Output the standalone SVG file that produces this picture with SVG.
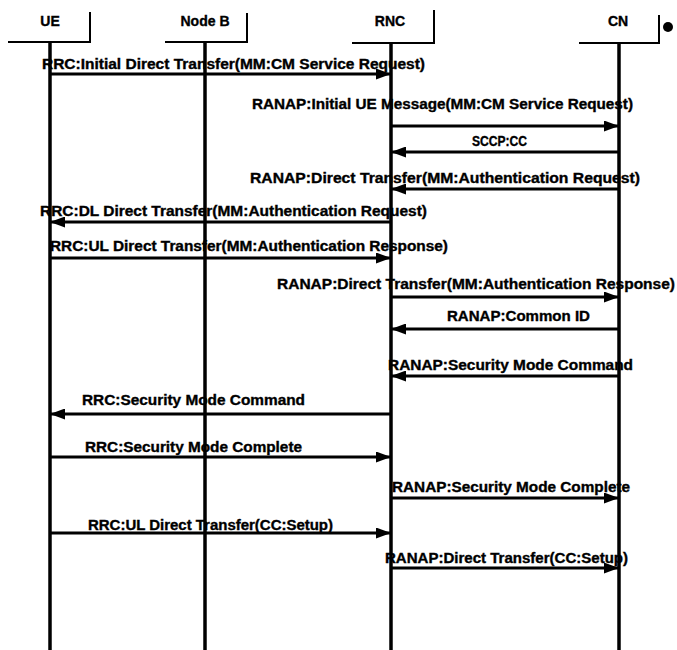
<svg xmlns="http://www.w3.org/2000/svg" width="677" height="650" viewBox="0 0 677 650">
<style>
.hdr{fill:none;stroke:#000;stroke-width:2}
.life{stroke:#000;stroke-width:3.5}
.msg{stroke:#000;stroke-width:3;fill:none}
.lbl{font-family:"Liberation Sans","DejaVu Sans",sans-serif;font-weight:bold;font-size:14px;fill:#000;stroke:#000;stroke-width:0.35}
.name{font-family:"Liberation Sans","DejaVu Sans",sans-serif;font-weight:bold;font-size:14px;fill:#000;stroke:#000;stroke-width:0.35;text-anchor:middle}
</style>
<defs>
<marker id="ah" viewBox="0 0 15 11" refX="15" refY="5.5" markerWidth="15" markerHeight="11" markerUnits="userSpaceOnUse" orient="auto">
<path d="M0,0 L15,5.5 L0,11 z" fill="#000"/>
</marker>
</defs>
<rect width="677" height="650" fill="#fff"/>
<g id="UE">
<path class="hdr" d="M8,42 H90 V12"/>
<text class="name" x="50" y="26">UE</text>
<line class="life" x1="50" y1="42" x2="50" y2="650"/>
</g>
<g id="NodeB">
<path class="hdr" d="M165,42 H247 V13"/>
<text class="name" x="205" y="26">Node B</text>
<line class="life" x1="205" y1="42" x2="205" y2="650"/>
</g>
<g id="RNC">
<path class="hdr" d="M352,43 H434 V10"/>
<text class="name" x="390" y="26">RNC</text>
<line class="life" x1="391" y1="43" x2="391" y2="650"/>
</g>
<g id="CN">
<path class="hdr" d="M579,43 H659 V15"/>
<text class="name" x="618" y="26">CN</text>
<circle cx="668" cy="27" r="5" fill="#000"/>
<line class="life" x1="619" y1="43" x2="619" y2="650"/>
</g>
<g id="connectors">
<line class="msg" x1="50" y1="74" x2="391" y2="74" marker-end="url(#ah)"/>
<line class="msg" x1="391" y1="126" x2="619" y2="126" marker-end="url(#ah)"/>
<line class="msg" x1="619" y1="152" x2="391" y2="152" marker-end="url(#ah)"/>
<line class="msg" x1="619" y1="189" x2="391" y2="189" marker-end="url(#ah)"/>
<line class="msg" x1="391" y1="222" x2="50" y2="222" marker-end="url(#ah)"/>
<line class="msg" x1="50" y1="258" x2="391" y2="258" marker-end="url(#ah)"/>
<line class="msg" x1="391" y1="297" x2="619" y2="297" marker-end="url(#ah)"/>
<line class="msg" x1="619" y1="329" x2="391" y2="329" marker-end="url(#ah)"/>
<line class="msg" x1="619" y1="376" x2="391" y2="376" marker-end="url(#ah)"/>
<line class="msg" x1="391" y1="414" x2="50" y2="414" marker-end="url(#ah)"/>
<line class="msg" x1="50" y1="457" x2="391" y2="457" marker-end="url(#ah)"/>
<line class="msg" x1="391" y1="498" x2="619" y2="498" marker-end="url(#ah)"/>
<line class="msg" x1="50" y1="533" x2="391" y2="533" marker-end="url(#ah)"/>
<line class="msg" x1="391" y1="568" x2="619" y2="568" marker-end="url(#ah)"/>
</g>
<g id="labels">
<text class="lbl" x="42" y="69" textLength="383" lengthAdjust="spacingAndGlyphs">RRC:Initial Direct Transfer(MM:CM Service Request)</text>
<text class="lbl" x="252" y="109" textLength="381" lengthAdjust="spacingAndGlyphs">RANAP:Initial UE Message(MM:CM Service Request)</text>
<text class="lbl" x="472" y="146" textLength="55" lengthAdjust="spacingAndGlyphs">SCCP:CC</text>
<text class="lbl" x="250" y="183" textLength="390" lengthAdjust="spacingAndGlyphs">RANAP:Direct Transfer(MM:Authentication Request)</text>
<text class="lbl" x="40" y="216" textLength="387" lengthAdjust="spacingAndGlyphs">RRC:DL Direct Transfer(MM:Authentication Request)</text>
<text class="lbl" x="50" y="251" textLength="398" lengthAdjust="spacingAndGlyphs">RRC:UL Direct Transfer(MM:Authentication Response)</text>
<text class="lbl" x="277" y="289" textLength="398" lengthAdjust="spacingAndGlyphs">RANAP:Direct Transfer(MM:Authentication Response)</text>
<text class="lbl" x="447" y="321" textLength="143" lengthAdjust="spacingAndGlyphs">RANAP:Common ID</text>
<text class="lbl" x="388" y="370" textLength="245" lengthAdjust="spacingAndGlyphs">RANAP:Security Mode Command</text>
<text class="lbl" x="82" y="405" textLength="223" lengthAdjust="spacingAndGlyphs">RRC:Security Mode Command</text>
<text class="lbl" x="85" y="452" textLength="217" lengthAdjust="spacingAndGlyphs">RRC:Security Mode Complete</text>
<text class="lbl" x="392" y="492" textLength="238" lengthAdjust="spacingAndGlyphs">RANAP:Security Mode Complete</text>
<text class="lbl" x="88" y="530" textLength="245" lengthAdjust="spacingAndGlyphs">RRC:UL Direct Transfer(CC:Setup)</text>
<text class="lbl" x="385" y="563" textLength="243" lengthAdjust="spacingAndGlyphs">RANAP:Direct Transfer(CC:Setup)</text>
</g>
</svg>
